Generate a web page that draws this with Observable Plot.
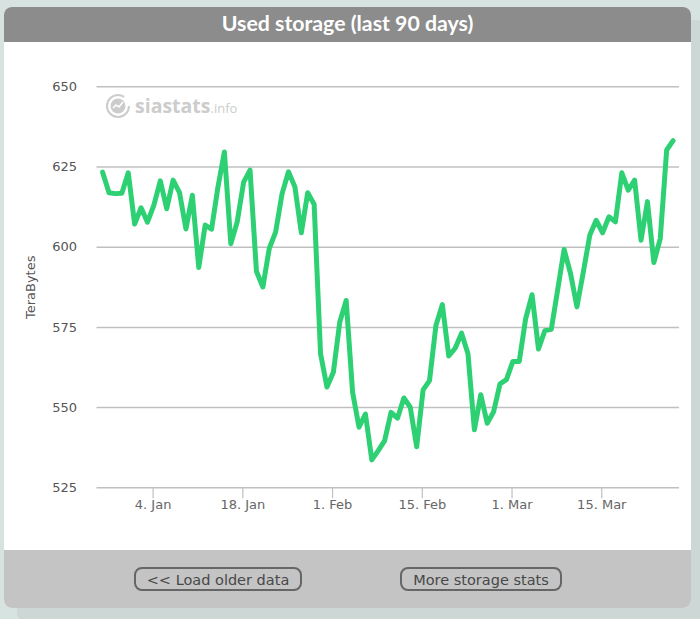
<!DOCTYPE html>
<html>
<head>
<meta charset="utf-8">
<script src="https://cdn.jsdelivr.net/npm/d3@7"></script>
<script src="https://cdn.jsdelivr.net/npm/@observablehq/plot@0.6"></script>
<style>
html,body{margin:0;padding:0;width:700px;height:619px;overflow:hidden;background:#d6e3e0;}
#card{position:absolute;left:4px;top:7px;width:687px;height:601px;background:#fff;border-radius:8px;box-shadow:13px 13px 0 #cdd7d6;overflow:visible;}
#head{position:absolute;left:0;top:0;width:687px;height:35px;background:#8c8c8c;border-radius:8px 8px 0 0;color:#fff;font:700 21.3px Lato,sans-serif;text-align:center;line-height:33px;}
#chart{position:absolute;left:0;top:35px;width:687px;height:508px;}
#chart svg{display:block;background:transparent;}
#foot{position:absolute;left:0;top:543px;width:687px;height:58px;background:#c4c4c4;border-radius:0 0 8px 8px;}
.btn{position:absolute;top:17px;height:20px;box-sizing:content-box;border:2px solid #666;border-radius:8px;color:#484848;font:14.5px/22px "DejaVu Sans",sans-serif;text-align:center;white-space:nowrap;}
#mark{position:absolute;left:102px;top:84px;width:150px;height:32px;}
#mark span{position:absolute;left:29px;top:-1px;font:700 19.5px/32px "Open Sans",sans-serif;color:#cccccc;white-space:nowrap;}
#mark small{font:400 13px "Open Sans",sans-serif;color:#cccccc;}
</style>
</head>
<body>
<div id="card">
  <div id="head">Used storage (last 90 days)</div>
  <div id="chart"></div>
  <div id="mark">
    <svg width="28" height="28" viewBox="0 0 28 28" style="position:absolute;left:-1px;top:2px">
      <circle cx="13" cy="13" r="11" fill="none" stroke="#cccccc" stroke-width="2" stroke-dasharray="58 11"/>
      <circle cx="13" cy="13" r="7.5" fill="#cccccc"/>
      <path d="M8 15l3-3 3 2 4-5" fill="none" stroke="#fff" stroke-width="1.6"/>
    </svg>
    <span>siastats<small>.info</small></span>
  </div>
  <div id="foot">
    <div class="btn" style="left:130px;width:164px">&lt;&lt; Load older data</div>
    <div class="btn" style="left:396px;width:158px">More storage stats</div>
  </div>
</div>
<script>
const firstDay = Date.UTC(2017, 11, 27, 3);
const storageTB = [
  623.4,617,616.7,616.8,623.2,607.2,612.3,607.8,613.1,620.7,
  612,620.9,617,605.7,616.2,593.7,606.9,605.6,618.8,629.7,
  601.1,607.9,620.3,624,592.5,587.6,599.6,604.8,616.7,623.5,
  618.8,604.5,617,613.4,566.8,556.4,561,576.7,583.4,554.8,
  543.9,548,533.7,536.6,539.7,548.5,546.7,553,550.1,537.8,
  555.5,558.4,575.6,582.1,566.1,568.5,573.2,566.8,543.1,554,
  545.1,548.7,557.4,558.7,564.4,564.4,577.7,585.2,568.3,574,
  574.4,586.8,599.3,591.8,581.4,592.3,603.7,608.4,604.5,609.5,
  607.9,623.2,617.8,620.9,602.2,614.2,595.2,602.7,630.3,633.2
];
const yTicks = [525,550,575,600,625,650];
const xTicks = [[2018,0,4],[2018,0,18],[2018,1,1],[2018,1,15],[2018,2,1],[2018,2,15]].map(d => new Date(Date.UTC(...d)));
const rows = storageTB.map((v,i) => ({date: new Date(d3.utcDay.offset(firstDay, i)), v}));
const fmt = d3.utcFormat("%-d. %b");
const plot = Plot.plot({
  width: 687, height: 508,
  marginLeft: 92.5, marginRight: 12, marginTop: 44.3, marginBottom: 62.7,
  style: {background: "transparent", fontFamily: "'DejaVu Sans',sans-serif"},
  x: {type: "utc", domain: [d3.utcHour.offset(xTicks[0], -8.72*24), d3.utcHour.offset(xTicks[0], 82.14*24)]},
  y: {domain: [525, 650]},
  marks: [
    Plot.ruleY(yTicks, {stroke: "#c0c0c0", strokeWidth: 1.5}),
    Plot.ruleX(xTicks, {y1: 525, y2: 525, insetBottom: -11, stroke: "#c0c0c0", strokeWidth: 1.2}),
    Plot.axisY({ticks: yTicks, tickSize: 0, tickPadding: 20, fontSize: 13, fill: "#555", label: "TeraBytes", labelAnchor: "center", labelArrow: "none", labelOffset: 71, tickFormat: d => d}),
    Plot.axisX({ticks: xTicks, tickFormat: fmt, tickSize: 0, tickPadding: 12, fontSize: 13, fill: "#666", label: null}),
    Plot.lineY(rows, {x: "date", y: "v", stroke: "#2ed074", strokeWidth: 5})
  ]
});
document.getElementById("chart").appendChild(plot);
</script>
</body>
</html>
